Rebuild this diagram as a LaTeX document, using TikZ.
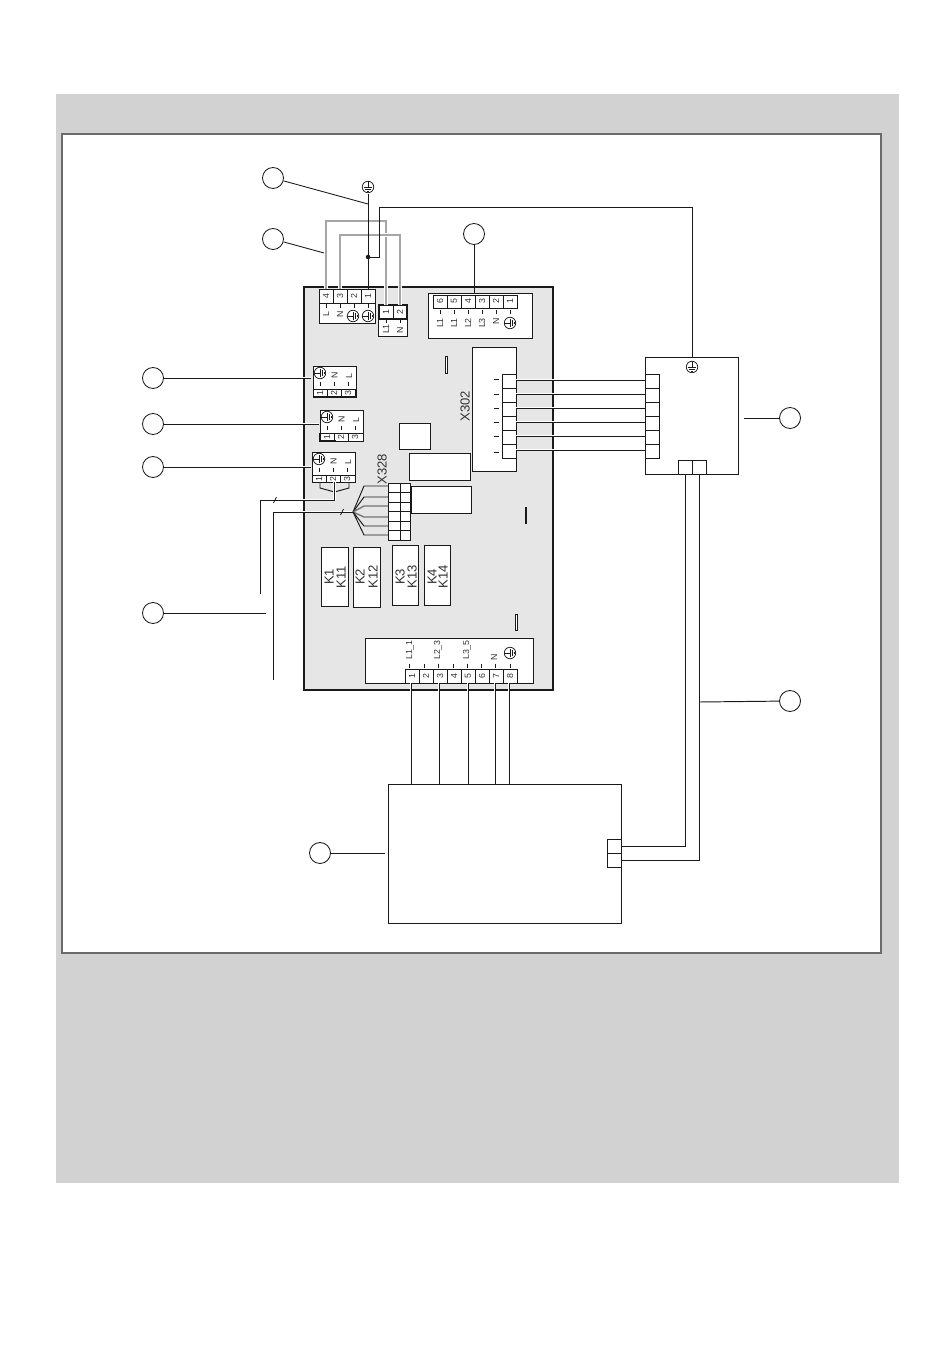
\documentclass[tikz,border=0pt]{standalone}
\usepackage{fontspec}
\setmainfont{Liberation Sans}
\definecolor{panel}{HTML}{D2D2D2}
\definecolor{boardgrey}{HTML}{E6E6E6}
\definecolor{inkdark}{HTML}{1A1A1A}
\definecolor{greywire}{HTML}{A6A6A6}
\definecolor{labelgrey}{HTML}{333333}
\tikzset{
  x=0.75pt,y=-0.75pt,
  thin line/.style={draw=inkdark,line width=0.72pt},
  boxw/.style={thin line,fill=white},
  wire/.style={thin line,line join=miter},
  halo/.style={wire,preaction={draw=white,line width=2.2pt}},
  gwire/.style={draw=greywire,line width=1.2pt,preaction={draw=white,line width=2.4pt}},
  callout/.style={circle,draw=inkdark,line width=0.65pt,fill=white,minimum size=15.75pt,inner sep=0pt},
  tiny/.style={inner sep=0pt,rotate=90,font=\fontsize{6.6}{7}\selectfont,text=labelgrey},
  big/.style={inner sep=0pt,rotate=90,font=\fontsize{9.8}{11}\selectfont,text=labelgrey},
  tick/.style={draw=inkdark,line width=0.6pt},
  gnd/.pic={
    \draw[line width=0.55pt,draw=inkdark] (0,0) circle (4.3pt);
    \draw[line width=0.55pt,draw=inkdark] (0,4.3pt) -- (0,0);
    \draw[line width=0.55pt,draw=inkdark] (-3.2pt,0) -- (3.2pt,0);
    \draw[line width=0.55pt,draw=inkdark] (-2pt,-1.6pt) -- (2pt,-1.6pt);
    \draw[line width=0.55pt,draw=inkdark] (-0.9pt,-3.1pt) -- (0.9pt,-3.1pt);
  }
}
\begin{document}
\begin{tikzpicture}
\useasboundingbox (0,0) rectangle (950,1369);
\fill[white] (0,0) rectangle (950,1369);
\fill[panel] (56,94) rectangle (899,1183);
\draw[fill=white,draw=black!58,line width=1.1pt] (62,134) rectangle (881,953);
% board
\draw[fill=boardgrey,draw=inkdark,line width=1.5pt] (304,287) rectangle (553,690);

% callouts
\foreach \n/\px/\py in {ca/273/178,cb/273/239,cc/474/234,cd/153/378,ce/153/424,cf/153/467,cg/153/613,ch/320/853,ci/790/418,cj/790/701}
  \node[callout] (\n) at (\px,\py) {};

% terminal block A
\draw[boxw] (319.5,289.5) rectangle (375.5,323);
\draw[thin line] (319.5,303) -- (375.5,303);
\foreach \px in {333,347,361} \draw[thin line] (\px,289.5) -- (\px,303);
\foreach \px/\t in {326/4,340/3,354/2,368/1} \node[tiny] at (\px,296.5) {\t};
\foreach \px in {326,340,354,368} \draw[tick] (\px,304) -- (\px,308);
\node[tiny] at (326,314) {L};
\node[tiny] at (340,314) {N};
\pic[rotate=90] at (353,316) {gnd};
\pic[rotate=90] at (368,316) {gnd};

% terminal block B
\draw[boxw] (378.7,305) rectangle (407,336);
\draw[thin line,line width=1.2pt] (378.7,305) -- (407,305) -- (407,319) -- (378.7,319) -- cycle;
\draw[thin line] (393,305) -- (393,319);
\node[tiny] at (386,312) {1};
\node[tiny] at (400,312) {2};
\draw[tick] (386,320) -- (386,323);
\draw[tick] (400,320) -- (400,323);
\node[tiny] at (386,329) {L1};
\node[tiny] at (400,330) {N};

% terminal block C
\draw[boxw] (428,293) rectangle (532,338);
\draw[thin line] (433,295) rectangle (517,308);
\foreach \px in {447,461,475,489,503} \draw[thin line] (\px,295) -- (\px,308);
\foreach \px/\t in {440/6,454/5,468/4,482/3,496/2,510/1} {
  \node[tiny] at (\px,301.5) {\t};
  \draw[tick] (\px,310) -- (\px,314);
}
\foreach \px/\t in {440/L1,454/L1,468/L2,482/L3} \node[tiny] at (\px,323) {\t};
\node[tiny] at (496,321) {N};
\pic[rotate=90] at (510,323) {gnd};

% X302
\draw[boxw] (472,347) rectangle (516,471);
\foreach \py in {374,388,402,416,430,444} \draw[boxw] (502,\py) rectangle (516,\py+14);
\foreach \py in {379,394,408,422,436,452} \draw[tick] (494,\py) -- (499,\py);
\node[big] at (465,406) {X302};
\draw[fill=white,draw=inkdark,line width=0.6pt] (445,356) rectangle (447,373);

% D, E, F connectors
\foreach \lx/\ty/\by/\ry in {313/366/397/389,320/410/441/433,312/452/482/475} {
  \draw[boxw] (\lx,\ty) rectangle (\lx+43,\by);
  \draw[thin line] (\lx,\ry) -- (\lx+43,\ry);
  \draw[thin line] (\lx+14,\ry) -- (\lx+14,\by);
  \draw[thin line] (\lx+28,\ry) -- (\lx+28,\by);
  \foreach \d/\t in {7/1,21/2,35/3} {
    \node[tiny] at (\lx+\d,\ry+4) {\t};
    \draw[tick] (\lx+\d,\ry-7) -- (\lx+\d,\ry-3);
  }
  \node[tiny] at (\lx+21.5,\ry-14) {N};
  \node[tiny] at (\lx+36,\ry-13) {L};
  \pic[rotate=90] at (\lx+7,\ry-16) {gnd};
}
\draw[thin line,line width=1.2pt] (313,397) -- (356,397) -- (356,389);
\draw[thin line,line width=1.2pt] (320,433) -- (320,441) -- (336,441);

% plain rectangles
\draw[boxw] (399,423) rectangle (430,449);
\draw[boxw] (409,453) rectangle (470,480);
\draw[boxw] (411,486) rectangle (471,513);
\draw[draw=inkdark,line width=1.3pt] (526,507) -- (526,524);
\draw[fill=white,draw=inkdark,line width=0.6pt] (515.5,614) rectangle (517.5,630);

% relays
\foreach \a/\b/\c/\d/\ta/\xa/\tb/\xb in {321/547/348/606/K1/329/K11/341,353/547/380/607/K2/360/K12/373,392/545/418/605/K3/400/K13/412,424/545/450/605/K4/432/K14/443} {
  \draw[boxw] (\a,\b) rectangle (\c,\d);
  \node[big] at (\xa,577) {\ta};
  \node[big] at (\xb,577) {\tb};
}

% X328
\foreach \py in {483,492.5,502,511.5,521,530.5} {
  \draw[boxw] (388,\py) rectangle (400.5,\py+9.5);
  \draw[boxw] (400.5,\py) rectangle (410,\py+9.5);
}
\node[big] at (382,469) {X328};

% bottom connector
\draw[boxw] (365,638) rectangle (533,683);
\draw[thin line] (405,683) -- (405,669) -- (517,669) -- (517,683);
\foreach \px in {419,433,447,461,475,489,503} \draw[thin line] (\px,669) -- (\px,683);
\foreach \px/\tx/\t in {412/409/1,426/424/2,440/438/3,454/453/4,468/467/5,482/481/6,496/495/7,510/510/8} {
  \node[tiny] at (\px,676) {\t};
  \draw[tick] (\tx,663.5) -- (\tx,668);
}
\node[tiny] at (410,650) {L1\_1};
\node[tiny] at (438,650) {L2\_3};
\node[tiny] at (467,650) {L3\_5};
\node[tiny] at (494,657) {N};
\pic[rotate=90] at (510,653) {gnd};

% right box
\draw[boxw] (645,357) rectangle (738,474);
\foreach \py in {374,388,402,416,430,444} \draw[boxw] (645,\py) rectangle (659,\py+14);
\draw[boxw] (678,460) rectangle (692,474);
\draw[boxw] (692,460) rectangle (706,474);
\pic at (692,367) {gnd};

% bottom box
\draw[boxw] (388,784) rectangle (621,923);
\draw[boxw] (607,839) rectangle (621,853);
\draw[boxw] (607,853) rectangle (621,867);

% grey wires
\draw[gwire] (326,289.5) -- (326,221) -- (386,221) -- (386,305);
\draw[gwire] (340,289.5) -- (340,235) -- (400,235) -- (400,305);

% earth
\pic at (368,187) {gnd};
\coordinate (earthtop) at (368,194);
\coordinate (earthj) at (368,257);
\coordinate (earthb) at (368,289.5);
\draw[wire] (earthtop) -- (earthb);
\fill[inkdark] (earthj) circle (1.7pt);
\coordinate (pe) at (692,357);
\draw[wire] (earthj) -- (379,257) -- (379,207) -- (692,207) -- (pe);

% X302 wires
\foreach \py in {380,394,408,422,436,450}
  \draw[halo] (516,\py) -- (645,\py);

% right cables
\draw[wire] (685,474) -- (685,846) -- (621,846);
\draw[wire] (699,474) -- (699,860) -- (621,860);

% bottom wires
\foreach \px in {411,439,468,495,509}
  \draw[halo] (\px,683) -- (\px,784);

% F connector bracket
\draw[wire] (320,483) -- (320,488) -- (334.5,492) -- (349,488) -- (349,483);
\draw[halo] (334.5,482) -- (334.5,500) -- (260,500) -- (260,594);
\draw[tick] (273.5,503) -- (276.5,497);
\coordinate (fan) at (353,512);
\draw[halo] (fan) -- (273,512) -- (273,680);
\draw[tick] (340.5,515) -- (343.5,509);

% fan to X328
\draw[wire] (fan) -- (364,486) -- (388,486);
\draw[wire] (fan) -- (364,497) -- (388,497);
\draw[draw=black!55,line width=1pt] (fan) -- (364,506) -- (388,506);
\draw[draw=black!55,line width=1pt] (fan) -- (364,517) -- (388,517);
\draw[wire] (fan) -- (364,526) -- (388,526);
\draw[wire] (fan) -- (364,535) -- (388,535);

% leaders
\coordinate (la) at (368,204);
\coordinate (lb) at (324,253);
\coordinate (lc) at (474,293);
\coordinate (ld) at (311,378);
\coordinate (le) at (319,424);
\coordinate (lf) at (311,467);
\coordinate (lg) at (266,613);
\coordinate (lh) at (385,853);
\coordinate (li) at (744,418);
\coordinate (lj) at (699,702);
\draw[wire,line width=0.65pt] (ca) -- (la);
\draw[wire,line width=0.65pt] (cb) -- (lb);
\draw[wire] (cc) -- (lc);
\draw[halo] (cd) -- (ld);
\draw[halo] (ce) -- (le);
\draw[halo] (cf) -- (lf);
\draw[wire] (cg) -- (lg);
\draw[wire] (ch) -- (lh);
\draw[wire] (ci) -- (li);
\draw[wire] (cj) -- (lj);
\end{tikzpicture}
\end{document}
